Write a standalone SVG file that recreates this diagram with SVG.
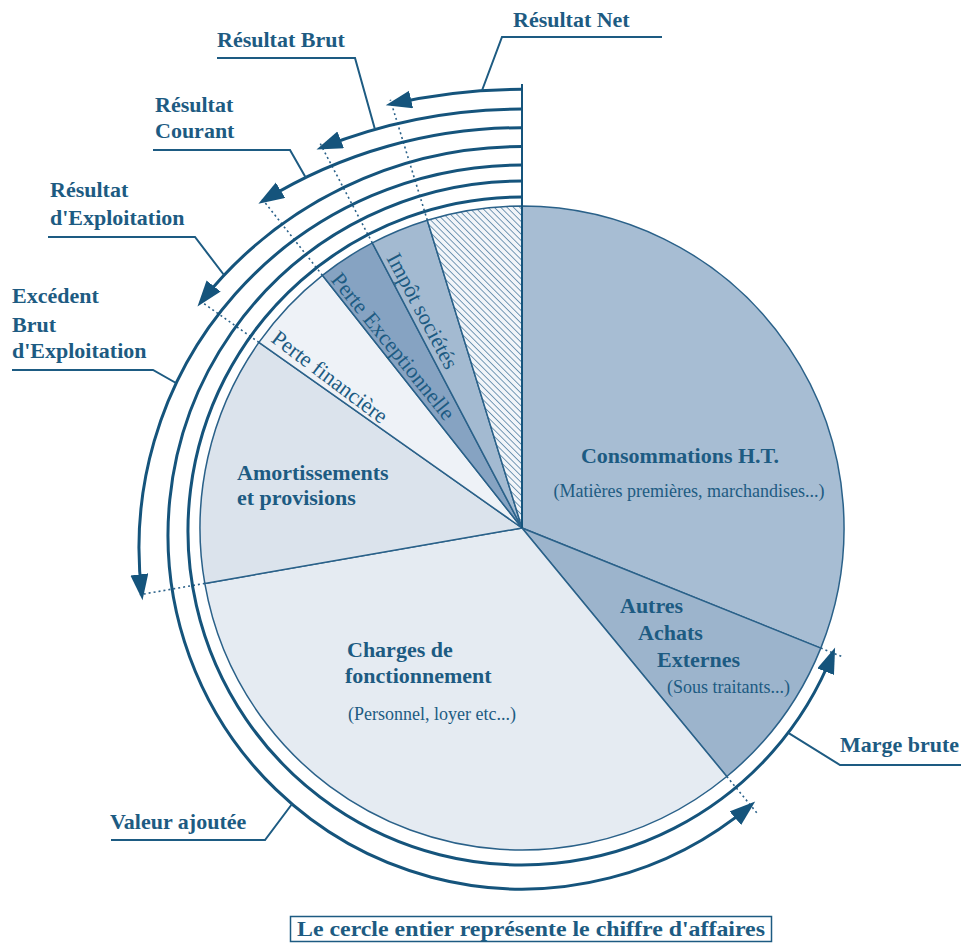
<svg xmlns="http://www.w3.org/2000/svg" width="961" height="944" viewBox="0 0 961 944">
<style>
.lbl{font-family:"Liberation Serif","Times New Roman",serif;font-weight:bold;font-size:22px;fill:#1d5b82}
.sub{font-family:"Liberation Serif","Times New Roman",serif;font-size:18px;fill:#1d5b82}
.rot{font-family:"Liberation Serif","Times New Roman",serif;font-size:22px;fill:#1d5b82}
.slice{stroke:#2a6189;stroke-width:1.5;stroke-linejoin:round}
.arc{fill:none;stroke:#15547c;stroke-width:3;marker-end:url(#ah)}
.dot{fill:none;stroke:#2a6189;stroke-width:1.6;stroke-dasharray:2 3}
.lead{fill:none;stroke:#1d5b82;stroke-width:2}
</style>
<defs>
<marker id="ah" markerUnits="userSpaceOnUse" markerWidth="30" markerHeight="20" refX="20" refY="9" orient="auto" viewBox="0 0 30 20">
<path d="M0,0 L26,9 L0,18 Z" fill="#15547c"/>
</marker>
<pattern id="hatch" patternUnits="userSpaceOnUse" width="4.5" height="4.5" patternTransform="rotate(-45)">
<rect width="4.5" height="4.5" fill="#f2f5f9"/>
<line x1="0" y1="0" x2="0" y2="4.5" stroke="#336991" stroke-width="1.3"/>
</pattern>
</defs>
<rect width="961" height="944" fill="#ffffff"/>

<!-- pie slices, centre (522,528), radius 322 -->
<g id="consommations">
<path class="slice" d="M522,528 L522,206 A322,322 0 0 1 820.8,648.1 Z" fill="#a7bdd3"/>
<text class="lbl" x="680" y="463" text-anchor="middle">Consommations H.T.</text>
<text class="sub" x="689" y="497" text-anchor="middle">(Matières premières, marchandises...)</text>
</g>
<g id="autres-achats">
<path class="slice" d="M522,528 L820.8,648.1 A322,322 0 0 1 726.8,776.5 Z" fill="#9cb4cc"/>
<text class="lbl" x="620" y="613">Autres</text>
<text class="lbl" x="638" y="640">Achats</text>
<text class="lbl" x="657" y="667">Externes</text>
<text class="sub" x="667" y="693">(Sous traitants...)</text>
</g>
<g id="charges">
<path class="slice" d="M522,528 L726.8,776.5 A322,322 0 0 1 204.8,583.4 Z" fill="#e5ebf2"/>
<text class="lbl" x="347" y="657">Charges de</text>
<text class="lbl" x="345" y="683">fonctionnement</text>
<text class="sub" x="348" y="720">(Personnel, loyer etc...)</text>
</g>
<g id="amortissements">
<path class="slice" d="M522,528 L204.8,583.4 A322,322 0 0 1 258.9,342.4 Z" fill="#dbe3ec"/>
<text class="lbl" x="237" y="480">Amortissements</text>
<text class="lbl" x="237" y="505">et provisions</text>
</g>
<g id="perte-financiere">
<path class="slice" d="M522,528 L258.9,342.4 A322,322 0 0 1 322.4,275.3 Z" fill="#eef2f7"/>
<text class="rot" font-size="21" transform="translate(270,341) rotate(37)">Perte financière</text>
</g>
<g id="perte-exceptionnelle">
<path class="slice" d="M522,528 L322.4,275.3 A322,322 0 0 1 372.3,242.9 Z" fill="#86a3c2"/>
<text class="rot" font-size="23" transform="translate(330,280) rotate(51)">Perte Exceptionnelle</text>
</g>
<g id="impot">
<path class="slice" d="M522,528 L372.3,242.9 A322,322 0 0 1 427.3,220.2 Z" fill="#a3bad1"/>
<text class="rot" transform="translate(386,258) rotate(62)">Impôt sociétés</text>
</g>
<g id="resultat-net-part">
<path class="slice" d="M522,528 L427.3,220.2 A322,322 0 0 1 522,206 Z" fill="url(#hatch)"/>
</g>

<!-- labels -->
<g id="label-resultat-net"><text class="lbl" x="513" y="27">Résultat Net</text></g>
<g id="label-resultat-brut"><text class="lbl" x="217" y="47">Résultat Brut</text></g>
<g id="label-resultat-courant"><text class="lbl" x="155" y="112">Résultat</text><text class="lbl" x="155" y="138">Courant</text></g>
<g id="label-resultat-exploitation"><text class="lbl" x="50" y="197">Résultat</text><text class="lbl" x="50" y="225">d'Exploitation</text></g>
<g id="label-ebe"><text class="lbl" x="12" y="303">Excédent</text><text class="lbl" x="12" y="332">Brut</text><text class="lbl" x="12" y="358">d'Exploitation</text></g>
<g id="label-marge-brute"><text class="lbl" x="840" y="752">Marge brute</text></g>
<g id="label-valeur-ajoutee"><text class="lbl" x="110" y="829">Valeur ajoutée</text></g>
<g id="legend">
<rect x="290.5" y="916.5" width="481" height="25" fill="#ffffff" stroke="#1d5b82" stroke-width="1.5"/>
<text class="lbl" x="531" y="936" text-anchor="middle" font-size="23" textLength="468" lengthAdjust="spacingAndGlyphs">Le cercle entier représente le chiffre d'affaires</text>
</g>

<!-- connectors: balance arcs, radial guides, label leaders -->
<g id="connectors">
<path d="M522,528 V84" fill="none" stroke="#15547c" stroke-width="2"/>
<path class="dot" d="M820.8,648.1 L844,657.4"/>
<path class="dot" d="M726.8,776.5 L757.4,813.5"/>
<path class="dot" d="M204.8,583.4 L139.8,594.7"/>
<path class="dot" d="M258.9,342.4 L198.4,299.7"/>
<path class="dot" d="M322.4,275.3 L261.7,198.4"/>
<path class="dot" d="M372.3,242.9 L319.8,142.8"/>
<path class="dot" d="M427.3,220.2 L390.3,99.8"/>
<path class="arc" d="M522,197 A334,334 0 1 0 832.9,653"/>
<path class="arc" d="M522,181 A354,354 0 1 0 750.6,805.3"/>
<path class="arc" d="M522,165 A383,383 0 0 0 141.8,594.3"/>
<path class="arc" d="M522,146.6 A409.4,409.4 0 0 0 201.2,301.7"/>
<path class="arc" d="M522,127.7 A494.3,494.3 0 0 0 263.5,200.7"/>
<path class="arc" d="M522,109 A541,541 0 0 0 322.1,147.3"/>
<path class="arc" d="M522,89.3 A585.7,585.7 0 0 0 391.6,104"/>
<path class="lead" d="M662,37 H502 L482,90.5"/>
<path class="lead" d="M217,58 H355 L375,129.4"/>
<path class="lead" d="M153,150 H290 L306,178"/>
<path class="lead" d="M48,237 H195 L224,275"/>
<path class="lead" d="M12,370 H153 L176,383"/>
<path class="lead" d="M961,765 H840 L788.3,732.8"/>
<path class="lead" d="M111,840 H265 L292,804"/>
</g>
</svg>
